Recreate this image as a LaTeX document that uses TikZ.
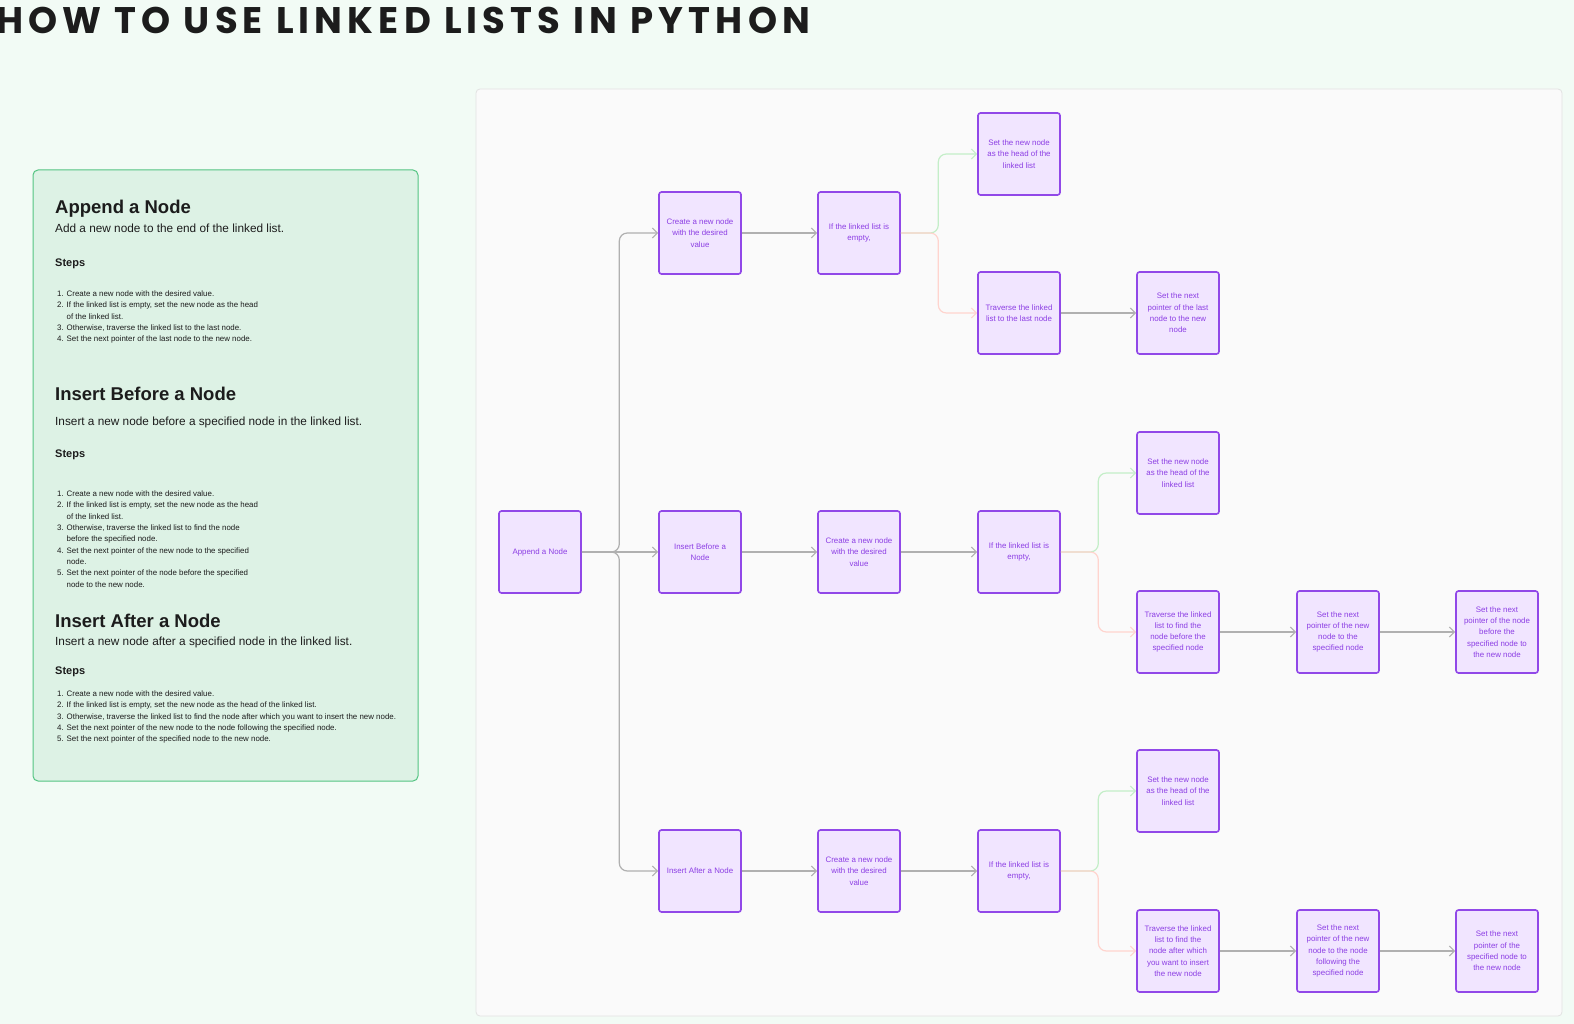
\documentclass[tikz,border=0pt]{standalone}
\usepackage{fontspec}
\setmainfont{Liberation Sans}
\newfontfamily\titlefont[LetterSpace=14]{Poppins}
\definecolor{pagemint}{RGB}{242,251,245}
\definecolor{cardgreen}{RGB}{221,242,229}
\definecolor{cardedge}{RGB}{84,196,130}
\definecolor{canvasgray}{RGB}{250,250,250}
\definecolor{canvasedge}{RGB}{226,226,226}
\definecolor{boxpurple}{RGB}{145,72,232}
\definecolor{boxfill}{RGB}{241,229,255}
\definecolor{textpurple}{RGB}{140,62,228}
\definecolor{linkgray}{RGB}{176,176,176}
\definecolor{yesgreen}{RGB}{196,238,200}
\definecolor{nopink}{RGB}{255,212,206}
\definecolor{inkdark}{RGB}{28,28,28}
\usepackage{tikz}
\usetikzlibrary{arrows.meta, positioning, calc}
\usepackage{xcolor}
\newcommand{\num}[1]{\makebox[9.5pt][l]{#1}}
\newcommand{\cont}{\hspace*{9.5pt}}

\begin{document}
\begin{tikzpicture}[x=1pt, y=-1pt,
    task/.style={draw=boxpurple, fill=boxfill, line width=1.6pt, rounded corners=2.5pt, minimum size=82pt, inner sep=0pt, align=center, text=textpurple, font=\fontsize{7.9}{11.3}\selectfont},
    link/.style={draw=linkgray, line width=1.2pt, rounded corners=8pt, -{Straight Barb[length=5pt, width=10pt]}},
    yes/.style={link, draw=yesgreen},
    no/.style={link, draw=nopink},
    head/.style={anchor=base west, inner sep=0pt, text=inkdark, font=\bfseries\fontsize{18.5}{20}\selectfont},
    lead/.style={anchor=base west, inner sep=0pt, text=inkdark, font=\fontsize{11.8}{13}\selectfont},
    sub/.style={anchor=base west, inner sep=0pt, text=inkdark, font=\bfseries\fontsize{11}{13}\selectfont},
    steplist/.style={anchor=north west, inner sep=0pt, align=left, text=inkdark, font=\fontsize{7.9}{11.35}\selectfont}]
    \useasboundingbox (0,0) rectangle (1574,1024);
    \fill[pagemint] (0,0) rectangle (1574,1024);

    % Title
    \node[anchor=base west, inner sep=0pt, text=inkdark, font=\titlefont\bfseries\fontsize{37}{40}\selectfont] (title) at (-4,34) {HOW TO USE LINKED LISTS IN PYTHON};

    % Left card
    \draw[draw=cardedge, fill=cardgreen, line width=1pt, rounded corners=5pt] (33,170) rectangle (418,781);

    \node[head] (apphead) at (55,214) {Append a Node};
    \node[lead] (applead) at (55,233) {Add a new node to the end of the linked list.};
    \node[sub] (appsteps) at (55,267) {Steps};
    \node[steplist] (applist) at (57,290.5) {\num{1.}Create a new node with the desired value.\\
        \num{2.}If the linked list is empty, set the new node as the head\\
        \cont of the linked list.\\
        \num{3.}Otherwise, traverse the linked list to the last node.\\
        \num{4.}Set the next pointer of the last node to the new node.};

    \node[head] (befhead) at (55,400.5) {Insert Before a Node};
    \node[lead] (beflead) at (55,425) {Insert a new node before a specified node in the linked list.};
    \node[sub] (befsteps) at (55,457) {Steps};
    \node[steplist] (beflist) at (57,490.5) {\num{1.}Create a new node with the desired value.\\
        \num{2.}If the linked list is empty, set the new node as the head\\
        \cont of the linked list.\\
        \num{3.}Otherwise, traverse the linked list to find the node\\
        \cont before the specified node.\\
        \num{4.}Set the next pointer of the new node to the specified\\
        \cont node.\\
        \num{5.}Set the next pointer of the node before the specified\\
        \cont node to the new node.};

    \node[head] (afthead) at (55,627) {Insert After a Node};
    \node[lead] (aftlead) at (55,645) {Insert a new node after a specified node in the linked list.};
    \node[sub] (aftsteps) at (55,674) {Steps};
    \node[steplist] (aftlist) at (57,690.5) {\num{1.}Create a new node with the desired value.\\
        \num{2.}If the linked list is empty, set the new node as the head of the linked list.\\
        \num{3.}Otherwise, traverse the linked list to find the node after which you want to insert the new node.\\
        \num{4.}Set the next pointer of the new node to the node following the specified node.\\
        \num{5.}Set the next pointer of the specified node to the new node.};

    % Flow canvas
    \draw[draw=canvasedge, fill=canvasgray, line width=0.8pt, rounded corners=4pt] (476,89) rectangle (1562,1016);

    % Root
    \node[task] (app) at (540,552) {Append a Node};

    % Append branch
    \node[task] (a1) at (700,233) {Create a new node\\with the desired\\value};
    \node[task] (a2) at (859,233) {If the linked list is\\empty,};
    \node[task] (a3) at (1019,154) {Set the new node\\as the head of the\\linked list};
    \node[task] (a4) at (1019,313) {Traverse the linked\\list to the last node};
    \node[task] (a5) at (1178,313) {Set the next\\pointer of the last\\node to the new\\node};

    % Insert before branch
    \node[task] (b0) at (700,552) {Insert Before a\\Node};
    \node[task] (b1) at (859,552) {Create a new node\\with the desired\\value};
    \node[task] (b2) at (1019,552) {If the linked list is\\empty,};
    \node[task] (b3) at (1178,473) {Set the new node\\as the head of the\\linked list};
    \node[task] (b4) at (1178,632) {Traverse the linked\\list to find the\\node before the\\specified node};
    \node[task] (b5) at (1338,632) {Set the next\\pointer of the new\\node to the\\specified node};
    \node[task] (b6) at (1497,632) {Set the next\\pointer of the node\\before the\\specified node to\\the new node};

    % Insert after branch
    \node[task] (c0) at (700,871) {Insert After a Node};
    \node[task] (c1) at (859,871) {Create a new node\\with the desired\\value};
    \node[task] (c2) at (1019,871) {If the linked list is\\empty,};
    \node[task] (c3) at (1178,791) {Set the new node\\as the head of the\\linked list};
    \node[task] (c4) at (1178,951) {Traverse the linked\\list to find the\\node after which\\you want to insert\\the new node};
    \node[task] (c5) at (1338,951) {Set the next\\pointer of the new\\node to the node\\following the\\specified node};
    \node[task] (c6) at (1497,951) {Set the next\\pointer of the\\specified node to\\the new node};

    % Connectors
    \draw[link] (app.east) -- ++(37.5,0) |- (a1.west);
    \draw[link] (app.east) -- (b0.west);
    \draw[link] (app.east) -- ++(37.5,0) |- (c0.west);

    \draw[link] (a1) -- (a2);
    \draw[yes] (a2.east) -- ++(37.5,0) |- (a3.west);
    \draw[no] (a2.east) -- ++(37.5,0) |- (a4.west);
    \draw[link] (a4) -- (a5);

    \draw[link] (b0) -- (b1);
    \draw[link] (b1) -- (b2);
    \draw[yes] (b2.east) -- ++(37.5,0) |- (b3.west);
    \draw[no] (b2.east) -- ++(37.5,0) |- (b4.west);
    \draw[link] (b4) -- (b5);
    \draw[link] (b5) -- (b6);

    \draw[link] (c0) -- (c1);
    \draw[link] (c1) -- (c2);
    \draw[yes] (c2.east) -- ++(37.5,0) |- (c3.west);
    \draw[no] (c2.east) -- ++(37.5,0) |- (c4.west);
    \draw[link] (c4) -- (c5);
    \draw[link] (c5) -- (c6);
\end{tikzpicture}
\end{document}
